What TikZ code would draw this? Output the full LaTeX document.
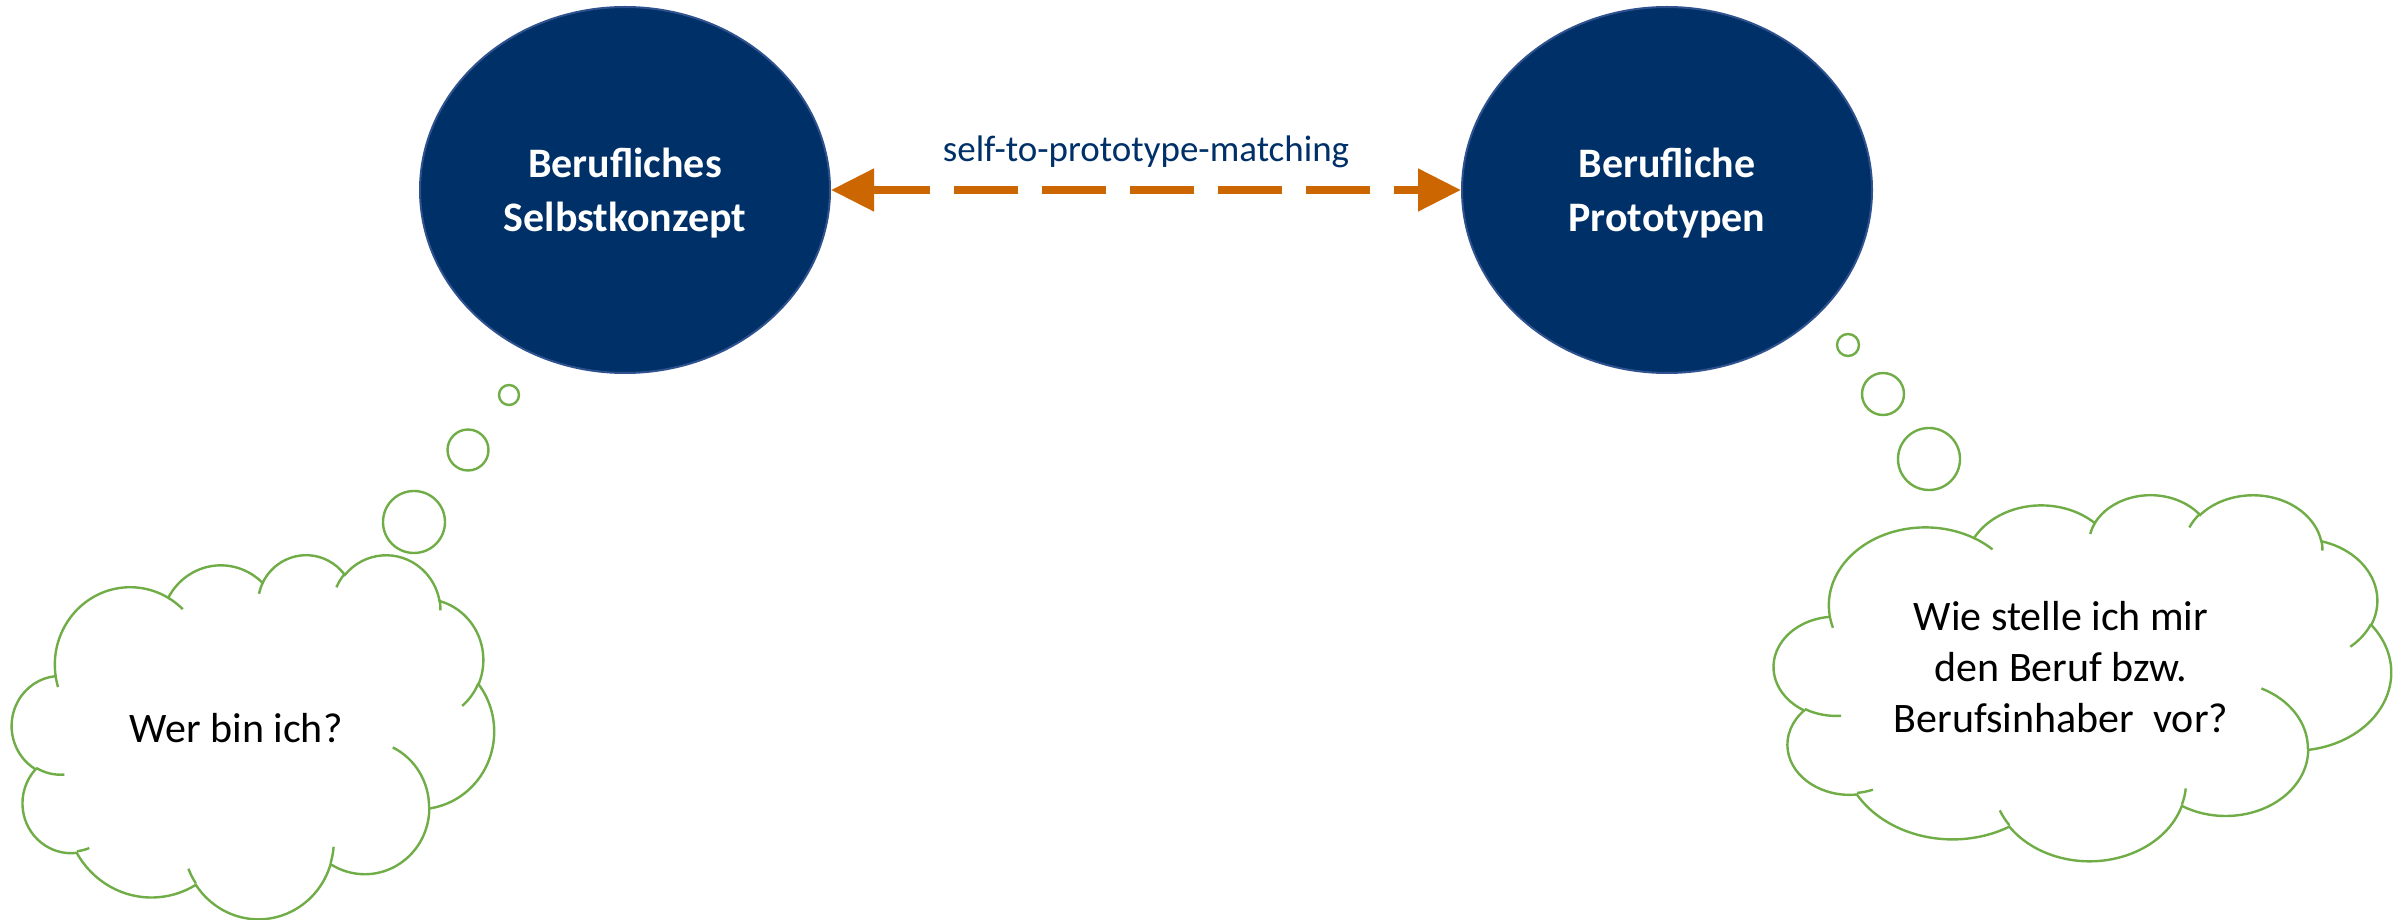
\documentclass[tikz,border=0pt]{standalone}
\usepackage{fontspec}
\setmainfont{Carlito}
\usetikzlibrary{shapes.geometric,arrows.meta}
\definecolor{navy}{RGB}{0,48,104}
\definecolor{rim}{RGB}{47,82,143}
\definecolor{rust}{RGB}{204,102,0}
\definecolor{leaf}{RGB}{112,173,71}
\tikzset{
	declare function={vis(\va,\vw,\vh)=atan2(\vw*sin(\va),\vh*cos(\va));},
	puff/.style n args={4}{insert path={arc[x radius=#1pt/100, y radius=#2pt/100, start angle={vis(#3,#1,#2)}, delta angle={mod(vis(#3+#4,#1,#2)-vis(#3,#1,#2)+720,360)}]}},
	cloudbody/.style={insert path={(39,143.7) [puff={6753}{9190}{-190.4875}{123.7805}]
		[puff={5333}{7267}{-144.1024}{89.9452}] [puff={4365}{5945}{-145.8079}{99.7230}]
		[puff={4857}{6595}{-130.9861}{117.2417}] [puff={5333}{7273}{-78.7089}{109.0269}]
		[puff={6775}{9220}{-46.2673}{130.2690}] [puff={5785}{7867}{0.6250}{114.0333}]
		[puff={6752}{9215}{22.4516}{115.1726}] [puff={7720}{10543}{66.2426}{75.7110}]
		[puff={4360}{5918}{-274.9421}{146.7356}] [puff={4345}{5945}{-246.8285}{152.5189}] -- cycle}},
	cloudstubs/.style={insert path={(46.93,261.77) [puff={4345}{5945}{86.742}{26.4295}]
		(69.28,348.99) [puff={4360}{5918}{73.6105}{11.4475}]
		(164.78,390.90) [puff={6752}{9215}{137.6242}{14.0811}]
		(288.27,347.51) [puff={6752}{9215}{6.4533}{15.9984}]
		(341.29,229.54) [puff={5785}{7867}{-70.2924}{70.9174}]
		(417.98,153.54) [puff={5333}{7273}{30.3180}{27.7515}]
		(383.24,54.26) [puff={4857}{6595}{-13.7443}{14.8589}]
		(290.78,39.52) [puff={4857}{6595}{-149.1815}{18.1954}]
		(221.41,47.20) [puff={4365}{5945}{-163.4943}{17.6864}]
		(140.00,51.92) [puff={6753}{9190}{-66.7070}{12.3194}]
		(41.27,157.89) [puff={6753}{9190}{157.6544}{11.8582}]}},
}
\begin{document}
\begin{tikzpicture}[x=1pt, y=1pt,
	oval/.style={ellipse, fill=navy, draw=rim, line width=2pt, minimum width=410pt, minimum height=366pt, inner sep=0pt, text=white, align=center, text depth=0pt, font=\bfseries\fontsize{42}{54}\selectfont},
	cloudline/.style={draw=leaf, line width=2.4pt},
	thought/.style={text=black, align=center, font=\fontsize{42}{51}\selectfont}]
	\useasboundingbox (0,0) rectangle (2407,919);
	% the two concepts
	\node[oval] (selbst) at (625,729) {Berufliches\\Selbstkonzept};
	\node[oval] (proto) at (1667,729) {Berufliche\\Prototypen};
	\draw[rust, line width=8pt, dash pattern=on 64pt off 24pt, dash phase=6pt, {Triangle[length=43pt, width=41pt]}-{Triangle[length=43pt, width=41pt]}] (selbst) -- node[midway, anchor=base, yshift=28pt, text=navy, font=\fontsize{37}{44}\selectfont] (match) {self-to-prototype-matching} (proto);
	% thought clouds
	\foreach \cx/\cy/\cw/\ch in {12/365/482/364, 1774/425/617/366}
	{
		\draw[cloudline, fill=white, shift={(\cx,\cy)}, xscale=\cw/432, yscale=-\ch/432] [cloudbody];
		\draw[cloudline, shift={(\cx,\cy)}, xscale=\cw/432, yscale=-\ch/432] [cloudstubs];
	}
	\foreach \x/\y/\r in {509/524/10, 468/469/20.5, 414/397/31, 1848/574/11, 1883/525/21, 1929/460/31}
		\draw[cloudline, fill=white] (\x,\y) circle[radius=\r*1pt];
	\node[thought, anchor=base] (wer) at (236,177) {Wer bin ich?};
	\node[thought] (wie) at (2061,252) {Wie stelle ich mir\\den Beruf bzw.\\Berufsinhaber~~vor?};
\end{tikzpicture}
\end{document}
